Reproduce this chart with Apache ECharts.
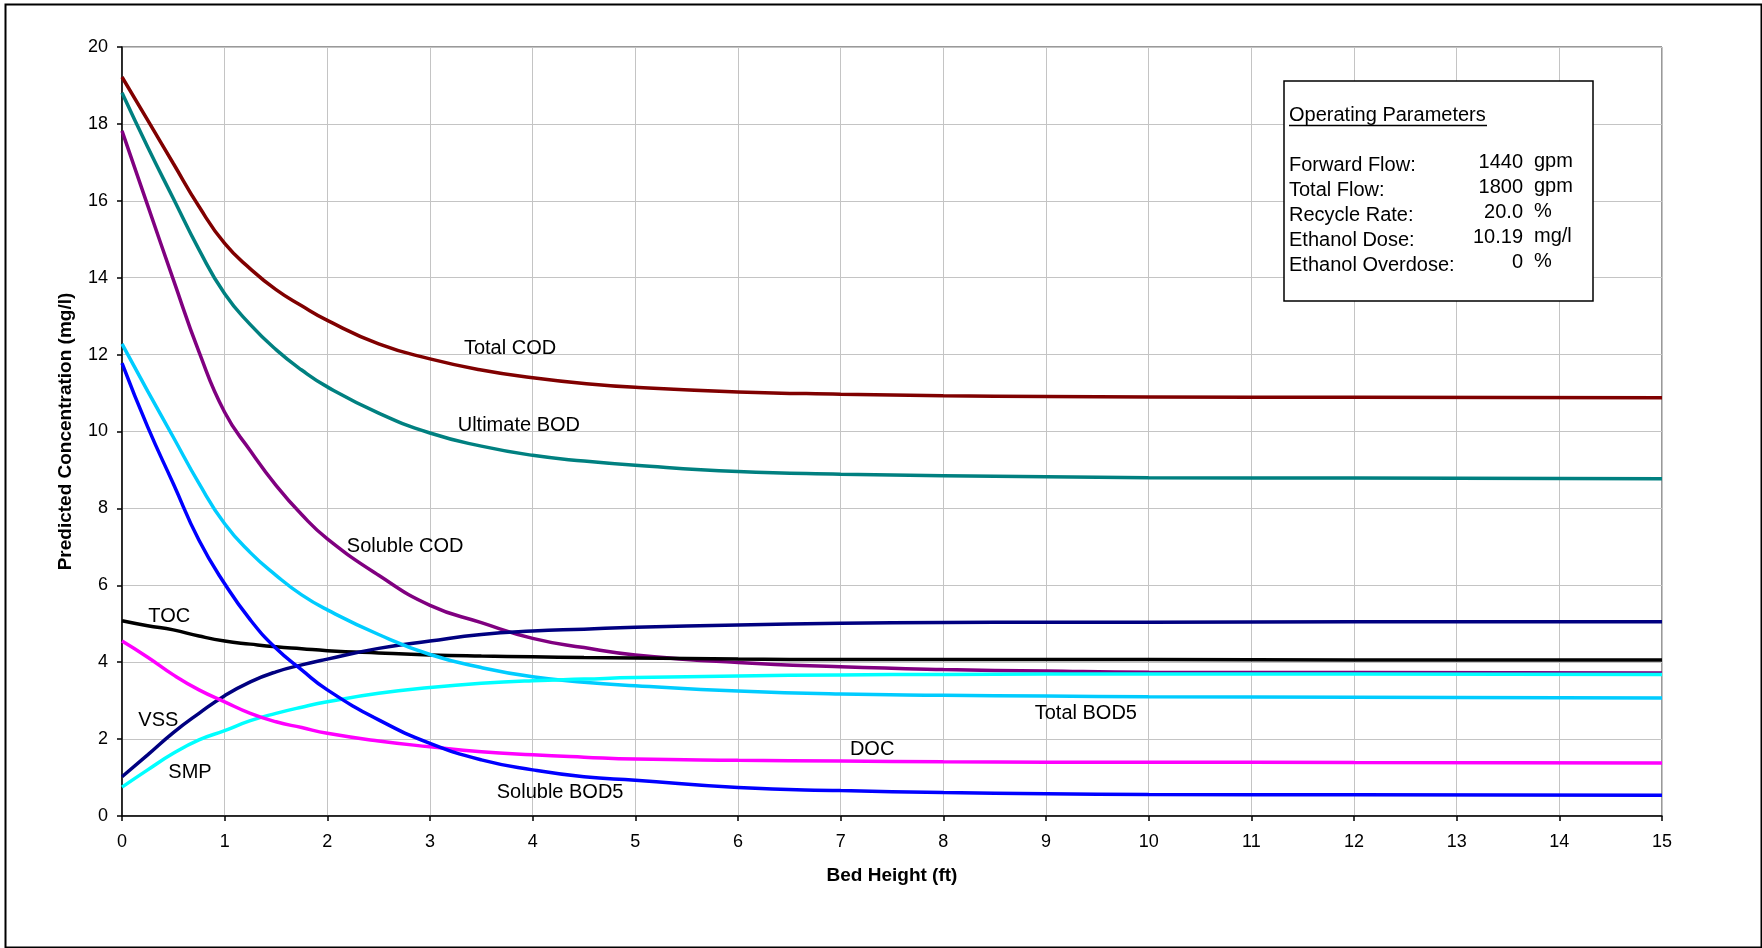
<!DOCTYPE html>
<html>
<head>
<meta charset="utf-8">
<script src="https://cdn.jsdelivr.net/npm/echarts@6/dist/echarts.min.js"></script>
<style>
  html, body { margin: 0; padding: 0; background: #fff; }
  #chart { width: 1762px; height: 948px; }
</style>
</head>
<body>
<div id="chart"></div>
<script>
// Bed height (ft) at which concentrations are sampled
const bedHeight = [0, 0.25, 0.5, 0.75, 1, 1.25, 1.5, 1.75, 2, 2.5, 3, 3.5, 4, 4.5, 5, 6, 7, 8, 9, 10, 12, 15];

// Predicted concentrations (mg/l)
const totalCOD    = [19.22, 18.10, 16.97, 15.85, 14.89, 14.23, 13.69, 13.27, 12.89, 12.28, 11.89, 11.60, 11.40, 11.25, 11.15, 11.03, 10.97, 10.93, 10.91, 10.90, 10.89, 10.88];
const ultimateBOD = [18.81, 17.40, 16.06, 14.73, 13.58, 12.78, 12.13, 11.60, 11.16, 10.48, 9.96, 9.62, 9.38, 9.23, 9.12, 8.96, 8.89, 8.85, 8.82, 8.80, 8.79, 8.77];
const solubleCOD  = [17.82, 15.88, 13.95, 12.07, 10.50, 9.50, 8.60, 7.84, 7.21, 6.26, 5.48, 5.03, 4.62, 4.38, 4.19, 3.99, 3.88, 3.81, 3.77, 3.74, 3.73, 3.72];
const toc         = [5.08, 4.95, 4.84, 4.68, 4.55, 4.47, 4.40, 4.35, 4.30, 4.24, 4.19, 4.16, 4.14, 4.12, 4.11, 4.08, 4.07, 4.07, 4.07, 4.07, 4.06, 4.06];
const vss         = [1.02, 1.59, 2.17, 2.67, 3.13, 3.49, 3.75, 3.93, 4.08, 4.36, 4.55, 4.72, 4.81, 4.86, 4.91, 4.97, 5.01, 5.03, 5.04, 5.04, 5.05, 5.05];
const totalBOD5   = [12.28, 11.05, 9.85, 8.65, 7.60, 6.85, 6.26, 5.75, 5.36, 4.72, 4.20, 3.86, 3.62, 3.48, 3.39, 3.25, 3.17, 3.14, 3.12, 3.10, 3.09, 3.07];
const smp         = [0.75, 1.20, 1.63, 1.98, 2.22, 2.48, 2.67, 2.83, 2.97, 3.19, 3.34, 3.45, 3.52, 3.56, 3.60, 3.64, 3.67, 3.68, 3.69, 3.69, 3.69, 3.68];
const doc         = [4.55, 4.13, 3.67, 3.28, 2.97, 2.67, 2.45, 2.30, 2.15, 1.95, 1.80, 1.67, 1.59, 1.53, 1.48, 1.45, 1.43, 1.41, 1.40, 1.40, 1.39, 1.38];
const solubleBOD5 = [11.78, 10.12, 8.64, 7.17, 6.04, 5.10, 4.36, 3.80, 3.28, 2.50, 1.89, 1.46, 1.20, 1.02, 0.93, 0.74, 0.66, 0.61, 0.58, 0.56, 0.55, 0.54];

// Operating parameters panel
const paramLabels = ['Forward Flow:', 'Total Flow:', 'Recycle Rate:', 'Ethanol Dose:', 'Ethanol Overdose:'];
const paramValues = ['1440', '1800', '20.0', '10.19', '0'];
const paramUnits  = ['gpm', 'gpm', '%', 'mg/l', '%'];

const FONT = '"Liberation Sans", Arial, Helvetica, sans-serif';

const seriesDefs = [
  { name: 'Total COD',    values: totalCOD,    color: '#800000' },
  { name: 'Ultimate BOD', values: ultimateBOD, color: '#008080' },
  { name: 'Soluble COD',  values: solubleCOD,  color: '#800080' },
  { name: 'TOC',          values: toc,         color: '#000000' },
  { name: 'VSS',          values: vss,         color: '#000080' },
  { name: 'Total BOD5',   values: totalBOD5,   color: '#00CCFF' },
  { name: 'SMP',          values: smp,         color: '#00FFFF' },
  { name: 'DOC',          values: doc,         color: '#FF00FF' },
  { name: 'Soluble BOD5', values: solubleBOD5, color: '#0000FF' }
];

// Curve names are placed next to their lines, anchored in data space (left edge, middle)
const curveLabelAnchors = {
  'Total COD':    [3.33, 12.15],
  'Ultimate BOD': [3.27, 10.16],
  'Soluble COD':  [2.19, 7.02],
  'TOC':          [0.256, 5.18],
  'VSS':          [0.159, 2.48],
  'SMP':          [0.451, 1.13],
  'Soluble BOD5': [3.65, 0.62],
  'DOC':          [7.09, 1.72],
  'Total BOD5':   [8.89, 2.67]
};

const chart = echarts.init(document.getElementById('chart'), null, { renderer: 'canvas' });

const option = {
  animation: false,
  backgroundColor: '#ffffff',
  grid: {
    left: 122, right: 100, top: 47, bottom: 132,
    show: true, borderColor: '#333333', borderWidth: 1, backgroundColor: 'transparent'
  },
  xAxis: {
    type: 'value', min: 0, max: 15, interval: 1,
    name: 'Bed Height (ft)', nameLocation: 'middle', nameGap: 50,
    nameTextStyle: { fontFamily: FONT, fontSize: 19, fontWeight: 'bold', color: '#000' },
    axisLine: { onZero: false, lineStyle: { color: '#000', width: 1.5 } },
    axisTick: { show: true, inside: false, length: 5, lineStyle: { color: '#000', width: 1.5 } },
    axisLabel: { fontFamily: FONT, fontSize: 18, color: '#000', margin: 17 },
    splitLine: { show: true, lineStyle: { color: '#c4c4c4', width: 1 } }
  },
  yAxis: {
    type: 'value', min: 0, max: 20, interval: 2,
    name: 'Predicted Concentration (mg/l)', nameLocation: 'middle', nameGap: 47,
    nameTextStyle: { fontFamily: FONT, fontSize: 19, fontWeight: 'bold', color: '#000' },
    axisLine: { show: true, onZero: false, lineStyle: { color: '#000', width: 1.5 } },
    axisTick: { show: true, inside: false, length: 5, lineStyle: { color: '#000', width: 1.5 } },
    axisLabel: { fontFamily: FONT, fontSize: 18, color: '#000', margin: 14 },
    splitLine: { show: true, lineStyle: { color: '#c4c4c4', width: 1 } }
  },
  series: seriesDefs.map(s => ({
    name: s.name,
    type: 'line',
    data: bedHeight.map((x, i) => [x, s.values[i]]),
    smooth: 0.5,
    showSymbol: false,
    symbol: 'none',
    lineStyle: { color: s.color, width: 3.5 },
    itemStyle: { color: s.color },
    z: 3
  }))
};

chart.setOption(option);

// Text and frame overlays
const graphics = [];

// outer frame
graphics.push({
  type: 'rect', left: 3, top: 2, z: 100, silent: true,
  shape: { width: 1756, height: 943 },
  style: { fill: 'none', stroke: '#000', lineWidth: 2 }
});

// curve names
Object.keys(curveLabelAnchors).forEach(name => {
  const p = chart.convertToPixel({ gridIndex: 0 }, curveLabelAnchors[name]);
  graphics.push({
    type: 'text', x: p[0], y: p[1], z: 50, silent: true,
    style: { text: name, fontFamily: FONT, fontSize: 20, fill: '#000', align: 'left', verticalAlign: 'middle' }
  });
});

// operating parameters panel
const box = { x: 1284, y: 81, w: 309, h: 220 };
graphics.push({
  type: 'rect', x: box.x, y: box.y, z: 60, silent: true,
  shape: { width: box.w, height: box.h },
  style: { fill: '#fff', stroke: '#000', lineWidth: 1.5 }
});
graphics.push({
  type: 'text', x: 1289, y: 115, z: 61, silent: true,
  style: { text: 'Operating Parameters', fontFamily: FONT, fontSize: 20, fill: '#000', align: 'left', verticalAlign: 'middle' }
});
graphics.push({
  type: 'line', z: 61, silent: true,
  shape: { x1: 1289, y1: 125.5, x2: 1487, y2: 125.5 },
  style: { stroke: '#000', lineWidth: 1.5 }
});
paramLabels.forEach((lab, i) => {
  const rowY = 165 + i * 25;
  graphics.push({
    type: 'text', x: 1289, y: rowY, z: 61, silent: true,
    style: { text: lab, fontFamily: FONT, fontSize: 20, fill: '#000', align: 'left', verticalAlign: 'middle' }
  });
  graphics.push({
    type: 'text', x: 1523, y: rowY - 3, z: 61, silent: true,
    style: { text: paramValues[i], fontFamily: FONT, fontSize: 20, fill: '#000', align: 'right', verticalAlign: 'middle' }
  });
  graphics.push({
    type: 'text', x: 1534, y: rowY - 4, z: 61, silent: true,
    style: { text: paramUnits[i], fontFamily: FONT, fontSize: 20, fill: '#000', align: 'left', verticalAlign: 'middle' }
  });
});

chart.setOption({ graphic: graphics });
</script>
</body>
</html>
